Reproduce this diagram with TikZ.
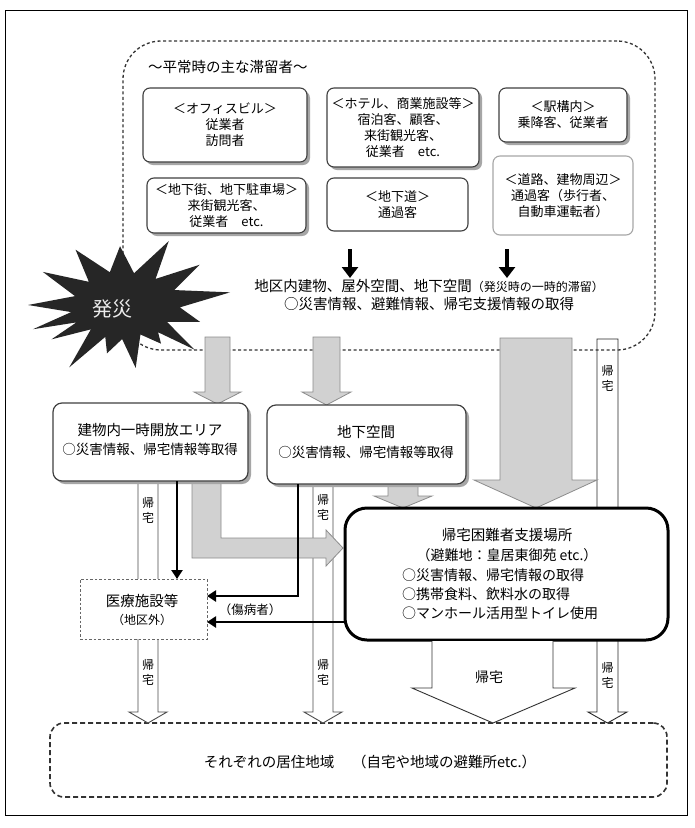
\documentclass[tikz,border=0pt]{standalone}
\usepackage{fontspec}
\setmainfont{Noto Sans CJK JP}
\usetikzlibrary{arrows.meta,shadows,calc}
\newcommand\fz[2]{\fontsize{#1pt}{#2pt}\selectfont}
\begin{document}
\begin{tikzpicture}[x=1pt,y=-1pt,
  every node/.style={inner sep=0pt, outer sep=0pt},
  tbox/.style={draw=black!75, line width=1.1pt, rounded corners=7pt, fill=white, anchor=north west, align=center, font=\fz{13}{16}},
  mbox/.style={draw=black!75, line width=1.2pt, rounded corners=9pt, fill=white, anchor=north west},
  shad/.style={drop shadow={shadow xshift=3pt, shadow yshift=-3pt, fill=black!35, opacity=1}},
  region/.style={draw=black!80, dash pattern=on 3pt off 2.5pt, line width=1.3pt, anchor=north west},
  garrow/.style={fill=black!18, draw=black!45, line width=0.8pt},
  warrow/.style={fill=white, draw=black!80, line width=0.9pt},
  tarrow/.style={fill=white, draw=black!70, line width=0.9pt},
  blk/.style={line width=2.6pt, -{Triangle[length=9pt,width=11pt]}},
  bigblk/.style={line width=3.2pt, -{Triangle[length=11pt,width=16pt]}},
  vtext/.style={align=center, font=\fz{12}{15}},
  txt/.style={font=\fz{14.5}{18}}
]
\useasboundingbox (0,0) rectangle (695,828);
\fill[white] (0,0) rectangle (695,828);
% frame
\draw[line width=1pt] (5,10) rectangle (687,815);

% right thin arrow (behind the top region's dashed line)
\draw[tarrow, draw=black!85] (597,339) -- (597,712) -- (588,712) -- (607.5,723) -- (627,712) -- (618,712) -- (618,339) -- cycle;

% top region
\node[region, rounded corners=38pt, minimum width=532pt, minimum height=309pt] (top) at (123,41) {};
\node[font=\fz{14.5}{17}, anchor=west] (title) at (148,67) {～平常時の主な滞留者～};

% top boxes
\node[tbox, shad, minimum width=164pt, minimum height=74pt] (office) at (143,88) {＜オフィスビル＞\\従業者\\訪問者};
\node[tbox, shad, minimum width=152pt, minimum height=79pt] (hotel) at (327,88) {＜ホテル、商業施設等＞\\宿泊客、顧客、\\来街観光客、\\従業者　etc.};
\node[tbox, shad, minimum width=128pt, minimum height=54pt] (station) at (499,88) {＜駅構内＞\\乗降客、従業者};
\node[tbox, shad, minimum width=159pt, minimum height=55pt] (chikagai) at (147,178) {＜地下街、地下駐車場＞\\来街観光客、\\従業者　etc.};
\node[tbox, minimum width=141pt, minimum height=53pt] (chikado) at (327,178) {＜地下道＞\\通過客};
\node[tbox, draw=black!35, minimum width=140pt, minimum height=79pt] (road) at (493,156) {＜道路、建物周辺＞\\通過客（歩行者、\\自動車運転者）};

\coordinate (a1s) at (350,249); \coordinate (a1e) at (350,278);
\coordinate (a2s) at (507,249); \coordinate (a2e) at (507,278);
\draw[bigblk] (a1s) -- (a1e);
\draw[bigblk] (a2s) -- (a2e);
\node[txt] (l1) at (429,286) {地区内建物、屋外空間、地下空間{\fz{12}{18}（発災時の一時的滞留）}};
\node[txt] (l2) at (429,304) {○災害情報、避難情報、帰宅支援情報の取得};

% bottom region
\node[region, dash pattern=on 5pt off 3pt, line width=1.6pt, rounded corners=14pt, minimum width=617pt, minimum height=74pt] (home) at (50,723) {};
\node[font=\fz{14.5}{17}] (hometxt) at (370,762) {それぞれの居住地域　 （自宅や地域の避難所etc.）};

% thin arrows
\draw[tarrow] (138,481) -- (138,712) -- (129,712) -- (148,723) -- (167,712) -- (158,712) -- (158,481);
\draw[tarrow] (313,484) -- (313,712) -- (304,712) -- (323,723) -- (342,712) -- (333,712) -- (333,484);

% gray arrows
\draw[garrow] (205,337) -- (230,337) -- (230,392) -- (241,392) -- (217.5,404) -- (194,392) -- (205,392) -- cycle;
\draw[garrow] (313,337) -- (340,337) -- (340,392) -- (351,392) -- (326.5,405) -- (302,392) -- (313,392) -- cycle;
\draw[garrow] (500,338) -- (572,338) -- (572,480) -- (597,480) -- (536,508) -- (474,480) -- (500,480) -- cycle;
\draw[garrow] (388,484) -- (418,484) -- (418,496) -- (432,496) -- (403,508) -- (374,496) -- (388,496) -- cycle;
\draw[garrow] (192,481) -- (221,481) -- (221,538) -- (326,538) -- (326,530) -- (343,548) -- (326,566) -- (326,558) -- (192,558) -- cycle;

% middle boxes
\node[mbox, shad, minimum width=195pt, minimum height=78pt] (bldg) at (53,403) {};
\node[font=\fz{14.5}{17}] (bldg1) at (150,430) {建物内一時開放エリア};
\node[font=\fz{13.5}{17}] (bldg2) at (150,449) {○災害情報、帰宅情報等取得};
\node[mbox, shad, minimum width=199pt, minimum height=79pt] (under) at (267,405) {};
\node[font=\fz{14.5}{17}] (under1) at (366,432) {地下空間};
\node[font=\fz{13.5}{17}] (under2) at (366,452) {○災害情報、帰宅情報等取得};

% support box
\node[draw=black, line width=3pt, rounded corners=22pt, fill=white, anchor=north west, minimum width=323pt, minimum height=132pt] (support) at (345,508) {};
\node[font=\fz{14.5}{17}] (s1) at (507,535) {帰宅困難者支援場所};
\node[font=\fz{14}{17}] (s2) at (507,555) {（避難地：皇居東御苑 etc.）};
\node[font=\fz{14}{17}, anchor=west] (s3) at (402,575) {○災害情報、帰宅情報の取得};
\node[font=\fz{14}{17}, anchor=west] (s4) at (402,594) {○携帯食料、飲料水の取得};
\node[font=\fz{14}{17}, anchor=west] (s5) at (402,613) {○マンホール活用型トイレ使用};

% big white arrow
\draw[warrow] (432,641) -- (432,688) -- (412,688) -- (493,723) -- (575,688) -- (553,688) -- (553,641);
\node[font=\fz{14}{17}] (bigtxt) at (489,677) {帰宅};

% medical box
\node[draw=black!60, dash pattern=on 2.5pt off 2pt, line width=1pt, fill=white, anchor=north west, minimum width=127pt, minimum height=60pt] (med) at (80,579) {};
\node[font=\fz{14.5}{17}] (med1) at (142,601) {医療施設等};
\node[font=\fz{12}{15}] (med2) at (142,620) {（地区外）};

% black connectors
\coordinate (k1) at (177,0);
\draw[blk] (bldg.south -| k1) -- (med.north -| k1);
\coordinate (k2) at (298,596);
\draw[blk] (under.south -| k2) |- (med.east |- k2);
\coordinate (k3) at (0,622);
\draw[blk] (support.west |- k3) -- (med.east |- k3);
\node[font=\fz{12.5}{15}] (injured) at (250,610) {（傷病者）};

% vertical 帰宅 labels
\node[vtext] (v1) at (148,510) {帰\\宅};
\node[vtext] (v2) at (148,672) {帰\\宅};
\node[vtext] (v3) at (323,507) {帰\\宅};
\node[vtext] (v4) at (323,672) {帰\\宅};
\node[vtext] (v5) at (607.5,378) {帰\\宅};
\node[vtext] (v6) at (607.5,675) {帰\\宅};

% starburst
\begin{scope}[shift={(125,305)}, xscale=100, yscale=62]
\fill[black!85] (20:0.8) \foreach \a/\r in {33/.5,46/1.0,53/.55,60/.72,72/.5,84/1.02,93/.55,103/.8,111/.55,119/1.15,131/.52,143/.92,150/.56,157/1.0,168/.55,180/.97,196/.52,213/.98,226/.52,241/1.02,254/.55,267/.95,280/.52,293/1.12,306/.52,319/.99,334/.55,349/1.07,364/.55} { -- (\a:\r) } -- cycle;
\end{scope}
\node[font=\fz{20}{24}, text=black!8] (hassai) at (112,309) {発災};
\end{tikzpicture}
\end{document}
